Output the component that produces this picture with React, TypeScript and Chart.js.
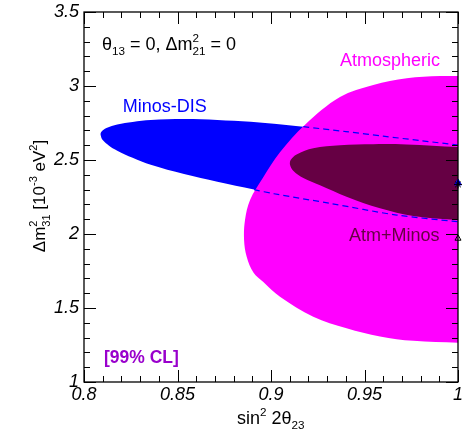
import { useEffect, useRef } from 'react';
import { Chart, registerables } from 'chart.js';

Chart.register(...registerables);

const xTickValues = [0.8, 0.85, 0.9, 0.95, 1.0];
const xTickLabels = ['0.8', '0.85', '0.9', '0.95', '1'];
const yTickValues = [1, 1.5, 2, 2.5, 3, 3.5];
const yTickLabels = ['1', '1.5', '2', '2.5', '3', '3.5'];

// Minos-DIS 99% CL region (continues past sin^2 2theta = 1, clipped by the frame)
const minosDis: [number, number][] = [
  [1.03, 2.556], [1.0, 2.601], [0.98, 2.631], [0.96, 2.661], [0.94, 2.692],
  [0.9173, 2.725], [0.9016, 2.745], [0.8891, 2.758], [0.8713, 2.771], [0.8535, 2.777],
  [0.8357, 2.770], [0.8260, 2.757], [0.8178, 2.740], [0.8120, 2.716], [0.8092, 2.690],
  [0.8089, 2.669], [0.8100, 2.635], [0.8134, 2.597], [0.8178, 2.563], [0.8260, 2.515],
  [0.8357, 2.468], [0.8535, 2.405], [0.8713, 2.353], [0.8909, 2.300], [0.9016, 2.272],
  [0.9316, 2.207], [0.9672, 2.128], [1.0, 2.083], [1.03, 2.045],
];

// Minos-DIS boundary segments drawn dashed over the other regions
const minosUpperEdge: [number, number][] = [
  [0.9173, 2.725], [0.94, 2.692], [0.96, 2.661], [0.98, 2.631], [1.0, 2.601],
];
const minosLowerEdge: [number, number][] = [
  [0.8909, 2.300], [0.9016, 2.272], [0.9316, 2.207], [0.9672, 2.128], [1.0, 2.083],
];

// Atmospheric 99% CL region
const atmospheric: [number, number][] = [
  [1.03, 3.068], [1.0, 3.068], [0.9904, 3.067], [0.9726, 3.052], [0.9547, 3.007],
  [0.9369, 2.925], [0.9182, 2.738], [0.9048, 2.552], [0.8957, 2.380], [0.8888, 2.230],
  [0.8861, 2.095], [0.8856, 1.959], [0.8870, 1.847], [0.8906, 1.740], [0.8959, 1.675],
  [0.9048, 1.576], [0.9226, 1.441], [0.9404, 1.363], [0.9583, 1.308], [0.9761, 1.278],
  [1.0, 1.266], [1.03, 1.264],
];

// Atm+Minos combined 99% CL region
const combined: [number, number][] = [
  [1.03, 2.580], [1.0, 2.588], [0.9726, 2.605], [0.9547, 2.607], [0.9369, 2.600],
  [0.9226, 2.580], [0.9137, 2.538], [0.9105, 2.500], [0.9102, 2.466], [0.9119, 2.428],
  [0.9173, 2.378], [0.9262, 2.329], [0.9404, 2.252], [0.9583, 2.174], [0.9761, 2.122],
  [1.0, 2.095], [1.03, 2.080],
];

// best-fit markers
const bestFitMinos: [number, number][] = [[1.0, 2.345]];
const bestFitCombined: [number, number][] = [[1.0, 2.335]];
const bestFitAtm: [number, number][] = [[1.0, 1.97]];

const FONT = "'Liberation Sans', Arial, Helvetica, sans-serif";

const pts = (a: [number, number][]) => a.map(([x, y]) => ({ x, y }));

type Seg = [string, number]; // 0 normal, 1 sup, -1 sub, 2 sup|sub stacked

function fontStr(size: number, bold = false, italic = false) {
  return `${italic ? 'italic ' : ''}${bold ? 'bold ' : ''}${size}px ${FONT}`;
}

function drawRich(
  ctx: CanvasRenderingContext2D,
  segs: Seg[],
  x: number,
  y: number,
  size: number,
  color: string,
  align: 'left' | 'center' = 'left',
  bold = false
) {
  const small = size * 0.65;
  const widths: number[] = segs.map(([t, m]) => {
    if (m === 0) {
      ctx.font = fontStr(size, bold);
      return ctx.measureText(t).width;
    }
    ctx.font = fontStr(small, bold);
    if (m === 2) {
      const [a, b] = t.split('|');
      return Math.max(ctx.measureText(a).width, ctx.measureText(b).width);
    }
    return ctx.measureText(t).width;
  });
  const total = widths.reduce((s, w) => s + w, 0);
  let cx = align === 'center' ? x - total / 2 : x;
  ctx.save();
  ctx.fillStyle = color;
  ctx.textAlign = 'left';
  ctx.textBaseline = 'alphabetic';
  segs.forEach(([t, m], i) => {
    if (m === 0) {
      ctx.font = fontStr(size, bold);
      ctx.fillText(t, cx, y);
    } else {
      ctx.font = fontStr(small, bold);
      if (m === 1) ctx.fillText(t, cx, y - size * 0.45);
      else if (m === -1) ctx.fillText(t, cx, y + size * 0.3);
      else {
        const [a, b] = t.split('|');
        ctx.fillText(a, cx, y - size * 0.45);
        ctx.fillText(b, cx, y + size * 0.3);
      }
    }
    cx += widths[i];
  });
  ctx.restore();
}

const framePlugin = {
  id: 'frameTicks',
  afterDatasetsDraw(chart: any) {
    const { ctx, chartArea: a, scales } = chart;
    const xs = scales.x;
    const ys = scales.y;
    ctx.save();
    ctx.strokeStyle = '#000';
    ctx.lineWidth = 1;
    ctx.beginPath();
    for (let i = 0; i <= 20; i++) {
      const v = 0.8 + i * 0.01;
      const px = Math.round(xs.getPixelForValue(v)) + 0.5;
      const len = i % 5 === 0 ? 12 : 6;
      ctx.moveTo(px, a.bottom);
      ctx.lineTo(px, a.bottom - len);
      ctx.moveTo(px, a.top);
      ctx.lineTo(px, a.top + len);
    }
    for (let i = 0; i <= 25; i++) {
      const v = 1 + i * 0.1;
      const py = Math.round(ys.getPixelForValue(v)) + 0.5;
      const len = i % 5 === 0 ? 12 : 6;
      ctx.moveTo(a.left, py);
      ctx.lineTo(a.left + len, py);
      ctx.moveTo(a.right, py);
      ctx.lineTo(a.right - len, py);
    }
    ctx.stroke();
    ctx.lineWidth = 1.3;
    ctx.strokeRect(a.left, a.top, a.right - a.left, a.bottom - a.top);
    ctx.restore();
  },
  afterDraw(chart: any) {
    const { ctx, scales } = chart;
    const xs = scales.x;
    const ys = scales.y;
    const X = (v: number) => xs.getPixelForValue(v);
    const Y = (v: number) => ys.getPixelForValue(v);

    drawRich(ctx, [['θ', 0], ['13', -1], [' = 0, Δm', 0], ['2|21', 2], [' = 0', 0]], X(0.8096), Y(3.243), 18, '#000');

    ctx.save();
    ctx.textBaseline = 'middle';
    ctx.textAlign = 'left';
    ctx.font = fontStr(18);
    ctx.fillStyle = '#ff00ff';
    ctx.fillText('Atmospheric', X(0.9369), Y(3.169));
    ctx.fillStyle = '#0000ff';
    ctx.fillText('Minos-DIS', X(0.8207), Y(2.858));
    ctx.fillStyle = '#660044';
    ctx.fillText('Atm+Minos', X(0.9417), Y(1.986));
    ctx.font = fontStr(17.5, true);
    ctx.fillStyle = '#9900cc';
    ctx.fillText('[99% CL]', X(0.8107), Y(1.162));
    ctx.restore();

    // x axis title
    drawRich(ctx, [['sin', 0], ['2', 1], [' 2θ', 0], ['23', -1]], 237, 424, 18, '#000');

    // y axis title
    ctx.save();
    ctx.translate(45, 196);
    ctx.rotate(-Math.PI / 2);
    drawRich(ctx, [['Δm', 0], ['2|31', 2], [' [10', 0], ['-3', 1], [' eV', 0], ['2', 1], [']', 0]], 0, 0, 17, '#000', 'center');
    ctx.restore();
  },
};

const regionStyle = {
  borderWidth: 0,
  borderColor: 'rgba(0,0,0,0)',
  pointRadius: 0,
  fill: 'shape',
  tension: 0.35,
};

export default function App() {
  const ref = useRef<HTMLCanvasElement | null>(null);

  useEffect(() => {
    if (!ref.current) return;
    const chart = new Chart(ref.current, {
      type: 'line',
      data: {
        datasets: [
          {
            data: pts(bestFitCombined),
            showLine: false,
            pointStyle: 'star',
            pointRadius: 4,
            pointBorderColor: '#000',
            pointBackgroundColor: '#000',
            pointBorderWidth: 1,
            clip: false,
            order: 1,
          },
          {
            data: pts(bestFitMinos),
            showLine: false,
            pointStyle: 'triangle',
            pointRadius: 4,
            pointBorderColor: '#0000ff',
            pointBackgroundColor: '#0000ff',
            clip: false,
            order: 2,
          },
          {
            data: pts(bestFitAtm),
            showLine: false,
            pointStyle: 'triangle',
            pointRadius: 3.5,
            pointBorderColor: '#000',
            pointBackgroundColor: 'rgba(0,0,0,0)',
            pointBorderWidth: 1,
            clip: false,
            order: 3,
          },
          {
            data: pts(minosUpperEdge),
            borderColor: '#0000ff',
            borderWidth: 1.2,
            borderDash: [6, 4],
            pointRadius: 0,
            fill: false,
            tension: 0.3,
            order: 4,
          },
          {
            data: pts(minosLowerEdge),
            borderColor: '#0000ff',
            borderWidth: 1.2,
            borderDash: [6, 4],
            pointRadius: 0,
            fill: false,
            tension: 0.3,
            order: 5,
          },
          { data: pts(combined), backgroundColor: '#660044', order: 6, ...regionStyle },
          { data: pts(atmospheric), backgroundColor: '#ff00ff', order: 7, ...regionStyle },
          { data: pts(minosDis), backgroundColor: '#0000ff', order: 8, ...regionStyle },
        ] as any,
      },
      options: {
        animation: false,
        responsive: false,
        maintainAspectRatio: false,
        elements: { line: { capBezierPoints: false } },
        layout: { padding: { top: 12, right: 7, left: 0, bottom: 0 } },
        plugins: {
          legend: { display: false },
          tooltip: { enabled: false },
        },
        scales: {
          x: {
            type: 'linear',
            min: 0.8,
            max: 1.0,
            grid: { display: false, drawTicks: false },
            border: { display: false },
            afterBuildTicks: (s: any) => {
              s.ticks = xTickValues.map((v) => ({ value: v }));
            },
            afterFit: (s: any) => {
              s.height = 51;
              s.paddingLeft = 0;
              s.paddingRight = 0;
              s.paddingTop = 0;
              s.paddingBottom = 0;
            },
            ticks: {
              autoSkip: false,
              maxRotation: 0,
              padding: 2,
              color: '#000',
              font: { family: FONT, size: 18, style: 'italic' },
              callback: (_v: any, i: number) => xTickLabels[i],
            },
          },
          y: {
            type: 'linear',
            min: 1,
            max: 3.5,
            grid: { display: false, drawTicks: false },
            border: { display: false },
            afterBuildTicks: (s: any) => {
              s.ticks = yTickValues.map((v) => ({ value: v }));
            },
            afterFit: (s: any) => {
              s.width = 84;
              s.paddingLeft = 0;
              s.paddingRight = 0;
              s.paddingTop = 0;
              s.paddingBottom = 0;
            },
            ticks: {
              autoSkip: false,
              padding: 5,
              color: '#000',
              font: { family: FONT, size: 18, style: 'italic' },
              callback: (_v: any, i: number) => yTickLabels[i],
            },
          },
        },
      } as any,
      plugins: [framePlugin],
    });
    return () => chart.destroy();
  }, []);

  return (
    <div style={{ position: 'absolute', left: 0, top: 0, width: 465, height: 433, background: '#fff' }}>
      <canvas ref={ref} width={465} height={433} style={{ display: 'block' }} />
    </div>
  );
}
